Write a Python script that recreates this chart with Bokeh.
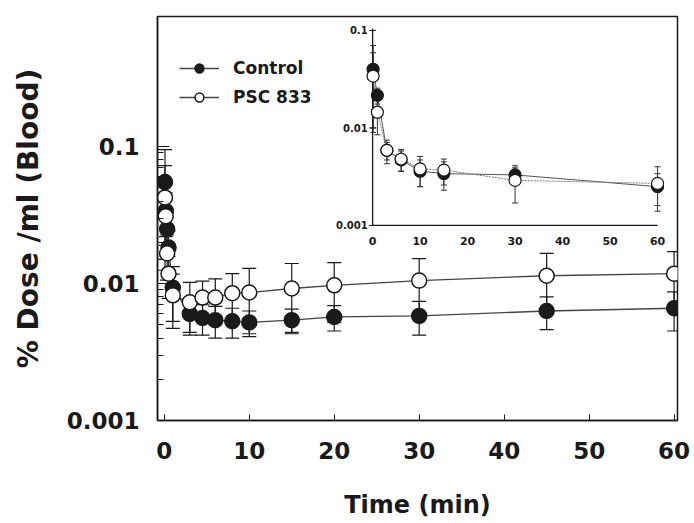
from bokeh.plotting import figure
from bokeh.models import (Range1d, LinearScale, LogScale, FixedTicker, Whisker, TeeHead,
                          ColumnDataSource, Legend, LegendItem, CustomJSTickFormatter)
from bokeh.core.properties import value
from bokeh.embed import file_html
from bokeh.resources import INLINE

# ---------------- data ----------------
# main panel
time_main = [0.08, 0.17, 0.33, 0.5, 1, 3, 4.5, 6, 8, 10, 15, 20, 30, 45, 60]
control_mean = [0.055, 0.034, 0.025, 0.0183, 0.0093, 0.0060, 0.0056, 0.0054, 0.0053,
                0.0052, 0.0054, 0.0057, 0.0058, 0.0063, 0.0066]
control_sd = [0.040, 0.012, 0.008, 0.006, 0.004, 0.0018, 0.0014, 0.0014, 0.0013,
              0.0011, 0.0011, 0.0012, 0.0016, 0.0017, 0.0021]
psc_mean = [0.0425, 0.031, 0.0166, 0.0118, 0.0082, 0.0073, 0.0079, 0.0079, 0.0085,
            0.0086, 0.0092, 0.0097, 0.0105, 0.0114, 0.0118]
psc_sd = [0.030, 0.012, 0.006, 0.004, 0.0035, 0.0029, 0.0025, 0.0029, 0.0033,
          0.0043, 0.0048, 0.0045, 0.0047, 0.0052, 0.0053]

# inset panel
time_inset = [0.1, 1, 3, 6, 10, 15, 30, 60]
inset_control = [0.040, 0.0216, 0.0059, 0.0047, 0.0036, 0.0034, 0.0033, 0.0025]
inset_control_sd = [0.030, 0.004, 0.0012, 0.0011, 0.0011, 0.0011, 0.0006, 0.0009]
inset_psc = [0.034, 0.0145, 0.0059, 0.0048, 0.0038, 0.0037, 0.0029, 0.0027]
inset_psc_sd = [0.025, 0.006, 0.0016, 0.0012, 0.0013, 0.0011, 0.0012, 0.0013]

x_ticks = [0, 10, 20, 30, 40, 50, 60]
y_ticks = [0.001, 0.01, 0.1]
y_minor = [m * d for d in (0.001, 0.01) for m in range(2, 10)]
inset_x_ticks = [0, 10, 20, 30, 40, 50, 60]
inset_y_ticks = [0.001, 0.01, 0.1]
inset_y_labels = ["0.001", "0.01", "0.1"]
inset_x_labels = ["0", "10", "20", "30", "40", "50", "60"]

FONT = "DejaVu Sans"
INK = "#1a1a1a"

p = figure(width=694, height=523, y_axis_type="log",
           x_range=Range1d(-0.8, 60.4), y_range=Range1d(0.001, 0.89),
           output_backend="svg", toolbar_location=None,
           min_border_left=157, min_border_right=17, min_border_top=16, min_border_bottom=103)

p.background_fill_color = "white"
p.border_fill_color = "white"
p.xgrid.visible = False
p.ygrid.visible = False
p.outline_line_color = INK
p.outline_line_width = 1.5

# axes
p.xaxis.ticker = FixedTicker(ticks=x_ticks)
p.yaxis.ticker = FixedTicker(ticks=y_ticks, minor_ticks=y_minor)
p.yaxis.formatter = CustomJSTickFormatter(code="return tick.toString();")
for ax in (p.xaxis, p.yaxis):
    ax.axis_line_color = INK
    ax.axis_line_width = 1.5
    ax.major_tick_line_color = INK
    ax.minor_tick_line_color = INK
    ax.major_tick_out = 0
    ax.minor_tick_out = 0
    ax.major_label_text_font = FONT
    ax.major_label_text_font_style = "bold"
    ax.major_label_text_font_size = "23px"
    ax.major_label_text_color = INK
    ax.axis_label_text_font = FONT
    ax.axis_label_text_font_style = "bold"
    ax.axis_label_text_color = INK
p.xaxis.major_tick_in = 6
p.xaxis.minor_tick_in = 0
p.yaxis.major_tick_in = 12
p.yaxis.minor_tick_in = 6
p.xaxis.major_label_standoff = 21
p.yaxis.major_label_standoff = 18
p.xaxis.axis_label = "Time (min)"
p.yaxis.axis_label = "% Dose /ml (Blood)"
p.xaxis.axis_label_text_font_size = "24px"
p.yaxis.axis_label_text_font_size = "28px"
p.xaxis.axis_label_standoff = 29
p.yaxis.axis_label_standoff = 19

# ---------------- main series ----------------
src_c = ColumnDataSource(dict(t=time_main, y=control_mean,
                              lo=[m - s for m, s in zip(control_mean, control_sd)],
                              hi=[m + s for m, s in zip(control_mean, control_sd)]))
src_p = ColumnDataSource(dict(t=time_main, y=psc_mean,
                              lo=[m - s for m, s in zip(psc_mean, psc_sd)],
                              hi=[m + s for m, s in zip(psc_mean, psc_sd)]))

for src in (src_c, src_p):
    w = Whisker(source=src, base="t", lower="lo", upper="hi", line_color=INK, line_width=1.2,
                upper_head=TeeHead(size=14, line_color=INK, line_width=1.2),
                lower_head=TeeHead(size=14, line_color=INK, line_width=1.2))
    p.add_layout(w)

line_c = p.line("t", "y", source=src_c, line_color="#444444", line_width=1.3)
line_p = p.line("t", "y", source=src_p, line_color="#444444", line_width=1.3)
sc_c = p.scatter("t", "y", source=src_c, size=15, fill_color=INK, line_color=INK, line_width=1.5)
sc_p = p.scatter("t", "y", source=src_p, size=15, fill_color="white", line_color=INK, line_width=1.5)

# ---------------- inset (own ranges inside the same frame) ----------------
p.extra_x_ranges = {"ix": Range1d(-45.3, 64.2)}
p.extra_y_ranges = {"iy": Range1d(1e-5, 0.139)}
p.extra_x_scales = {"ix": LinearScale()}
p.extra_y_scales = {"iy": LogScale()}
R = dict(x_range_name="ix", y_range_name="iy")

# inset axis lines
p.segment(x0=[inset_x_ticks[0], inset_x_ticks[0]], y0=[inset_y_ticks[0], inset_y_ticks[0]],
          x1=[inset_x_ticks[0], inset_x_ticks[-1]], y1=[inset_y_ticks[-1] * 1.05, inset_y_ticks[0]],
          line_color=INK, line_width=1.3, **R)
p.scatter(x=[inset_x_ticks[0]] * len(inset_y_ticks), y=inset_y_ticks, marker="dash", size=7,
          line_color=INK, line_width=1, **R)
p.text(x=[inset_x_ticks[0]] * len(inset_y_ticks), y=inset_y_ticks, text=inset_y_labels,
       x_offset=-5, text_align="right", text_baseline="middle",
       text_font=value(FONT), text_font_style="bold", text_font_size="10px", text_color=INK, **R)
p.text(x=inset_x_ticks, y=[inset_y_ticks[0]] * len(inset_x_ticks), text=inset_x_labels,
       y_offset=12, text_align="center", text_baseline="top",
       text_font=value(FONT), text_font_style="bold", text_font_size="11px", text_color=INK, **R)

isrc_c = ColumnDataSource(dict(t=time_inset, y=inset_control,
                               lo=[m - s for m, s in zip(inset_control, inset_control_sd)],
                               hi=[m + s for m, s in zip(inset_control, inset_control_sd)]))
isrc_p = ColumnDataSource(dict(t=time_inset, y=inset_psc,
                               lo=[m - s for m, s in zip(inset_psc, inset_psc_sd)],
                               hi=[m + s for m, s in zip(inset_psc, inset_psc_sd)]))
for src in (isrc_c, isrc_p):
    w = Whisker(source=src, base="t", lower="lo", upper="hi", line_color="#333333", line_width=1,
                upper_head=TeeHead(size=6, line_color="#333333", line_width=1),
                lower_head=TeeHead(size=6, line_color="#333333", line_width=1), **R)
    p.add_layout(w)
p.line("t", "y", source=isrc_c, line_color="#555555", line_width=1, **R)
p.line("t", "y", source=isrc_p, line_color="#777777", line_width=1, line_dash="2 1", **R)
p.scatter("t", "y", source=isrc_c, size=12, fill_color=INK, line_color=INK, line_width=1.2, **R)
p.scatter("t", "y", source=isrc_p, size=12, fill_color="white", line_color=INK, line_width=1.2, **R)

# ---------------- legend ----------------
legend = Legend(items=[LegendItem(label="Control", renderers=[line_c, sc_c]),
                       LegendItem(label="PSC 833", renderers=[line_p, sc_p])],
                location=(22, 312), glyph_width=40, glyph_height=22, spacing=7,
                padding=0, margin=0, label_standoff=14,
                label_text_font=FONT, label_text_font_style="bold", label_text_font_size="17px",
                label_text_color=INK, border_line_alpha=0, background_fill_alpha=0)
p.add_layout(legend)

open("out.html", "w").write(file_html(p, INLINE))
